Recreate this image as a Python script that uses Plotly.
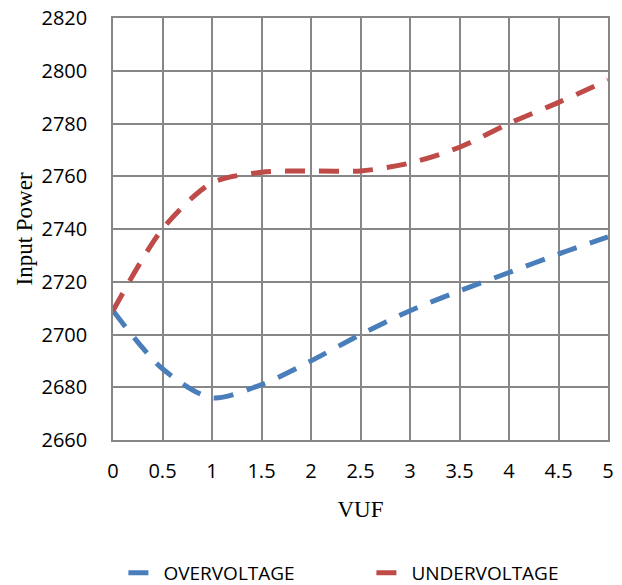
import plotly.graph_objects as go

vuf = [0, 0.5, 1, 1.5, 2, 2.5, 3, 3.5, 4, 4.5, 5]
overvoltage = [2709, 2687, 2676, 2681, 2690, 2700, 2709, 2716.5, 2723.5, 2730.5, 2737]
undervoltage = [2709, 2740, 2757.5, 2761.5, 2762, 2762, 2765, 2771, 2780, 2788, 2796.5]

grid = "#878787"
fig = go.Figure()
fig.add_trace(go.Scatter(x=vuf, y=overvoltage, name="OVERVOLTAGE", mode="lines",
                         line=dict(color="#4A7EBB", width=5, dash="20px,14px", shape="spline", smoothing=0.8)))
fig.add_trace(go.Scatter(x=vuf, y=undervoltage, name="UNDERVOLTAGE", mode="lines",
                         line=dict(color="#BE4B48", width=5, dash="20px,14px", shape="spline", smoothing=0.8)))

fig.update_layout(
    width=622, height=585,
    margin=dict(l=113, r=14, t=18, b=145, autoexpand=False),
    paper_bgcolor="white", plot_bgcolor="white",
    font=dict(family="Open Sans", size=16, color="black"),
    xaxis=dict(range=[0, 5], dtick=0.5, showgrid=True, gridcolor=grid, gridwidth=1.5,
               showline=True, linecolor=grid, linewidth=1.5, mirror=True, zeroline=False,
               ticklabelstandoff=12, tickfont=dict(size=20), automargin=False,
               title=dict(text="VUF", font=dict(family="Liberation Serif", size=23), standoff=18)),
    yaxis=dict(range=[2660, 2820], dtick=20, showgrid=True, gridcolor=grid, gridwidth=1.5,
               showline=True, linecolor=grid, linewidth=1.5, mirror=True, zeroline=False,
               ticklabelstandoff=20, tickfont=dict(size=20), automargin=False,
               title=dict(text="Input Power", font=dict(family="Liberation Serif", size=23), standoff=2)),
    legend=dict(orientation="h", x=0.021, xanchor="left", y=-0.315, yanchor="middle",
                font=dict(size=19), traceorder="normal",
                entrywidth=203, entrywidthmode="pixels"),
    showlegend=True,
)

fig.write_html("out.html", config={"displayModeBar": False},
               post_script="document.body.style.margin='0px';")
